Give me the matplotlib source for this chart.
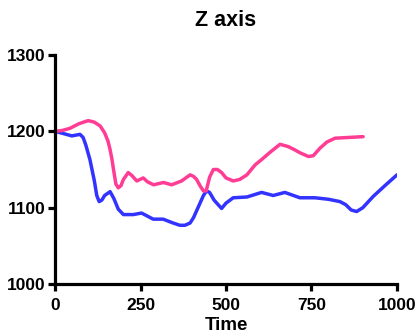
import matplotlib.pyplot as plt

# Z axis trace
blue_t = [0, 25, 49, 73, 82, 90, 102, 115, 122, 129, 137, 145, 161, 172, 185, 200, 229, 253, 287,
          316, 345, 365, 380, 395, 405, 420, 434, 443, 452, 465, 487, 500, 521, 561, 604, 638, 672,
          716, 760, 800, 833, 850, 866, 882, 900, 931, 965, 1000]
blue_z = [1200, 1197, 1194, 1196, 1192, 1182, 1163, 1135, 1116, 1108, 1110, 1116, 1121, 1112, 1098,
          1091, 1091, 1093, 1085, 1085, 1080, 1077, 1077, 1080, 1087, 1102, 1116, 1122, 1120, 1110,
          1099, 1106, 1113, 1114, 1120, 1116, 1120, 1113, 1113, 1111, 1108, 1104, 1097, 1095, 1100,
          1115, 1129, 1143]

pink_t = [0, 20, 44, 70, 97, 115, 132, 145, 155, 161, 167, 171, 178, 185, 193, 200, 214, 225, 239,
          258, 270, 288, 317, 341, 370, 395, 405, 414, 425, 434, 442, 452, 463, 475, 487, 500, 521,
          540, 561, 585, 604, 630, 658, 682, 700, 716, 741, 755, 775, 795, 819, 860, 901]
pink_z = [1200, 1201, 1204, 1210, 1214, 1212, 1207, 1198, 1187, 1176, 1162, 1150, 1131, 1126, 1129,
          1137, 1146, 1142, 1135, 1139, 1134, 1130, 1133, 1130, 1135, 1143, 1141, 1137, 1128, 1122,
          1122, 1140, 1150, 1150, 1146, 1139, 1135, 1137, 1143, 1156, 1163, 1173, 1183, 1180, 1176,
          1172, 1167, 1168, 1178, 1186, 1191, 1192, 1193]

x_ticks = [0, 250, 500, 750, 1000]
y_ticks = [1000, 1100, 1200, 1300]

plt.rcParams['font.family'] = ['Liberation Sans', 'DejaVu Sans']
plt.rcParams['font.weight'] = 'bold'

fig = plt.figure(figsize=(4.17, 3.35), dpi=100)
ax = fig.add_axes([0.132, 0.152, 0.820, 0.684])

ax.plot(blue_t, blue_z, color='#3333ff', linewidth=2.5, solid_joinstyle='round', solid_capstyle='round')
ax.plot(pink_t, pink_z, color='#ff3d94', linewidth=2.5, solid_joinstyle='round', solid_capstyle='round')

ax.set_xlim(0, 1000)
ax.set_ylim(1000, 1300)
ax.set_xticks(x_ticks)
ax.set_yticks(y_ticks)

for side in ['top', 'right']:
    ax.spines[side].set_visible(False)
for side in ['left', 'bottom']:
    ax.spines[side].set_linewidth(2.3)
ax.tick_params(width=2.3, length=5, labelsize=12.5)
ax.tick_params(axis='x', pad=5)
ax.tick_params(axis='y', pad=2)
for lab in ax.get_xticklabels() + ax.get_yticklabels():
    lab.set_fontweight('bold')

ax.set_title("Z axis", fontsize=15.5, fontweight='bold', pad=21)
ax.set_xlabel("Time", fontsize=13.5, fontweight='bold', labelpad=3)

fig.savefig("out.png", dpi=100)
